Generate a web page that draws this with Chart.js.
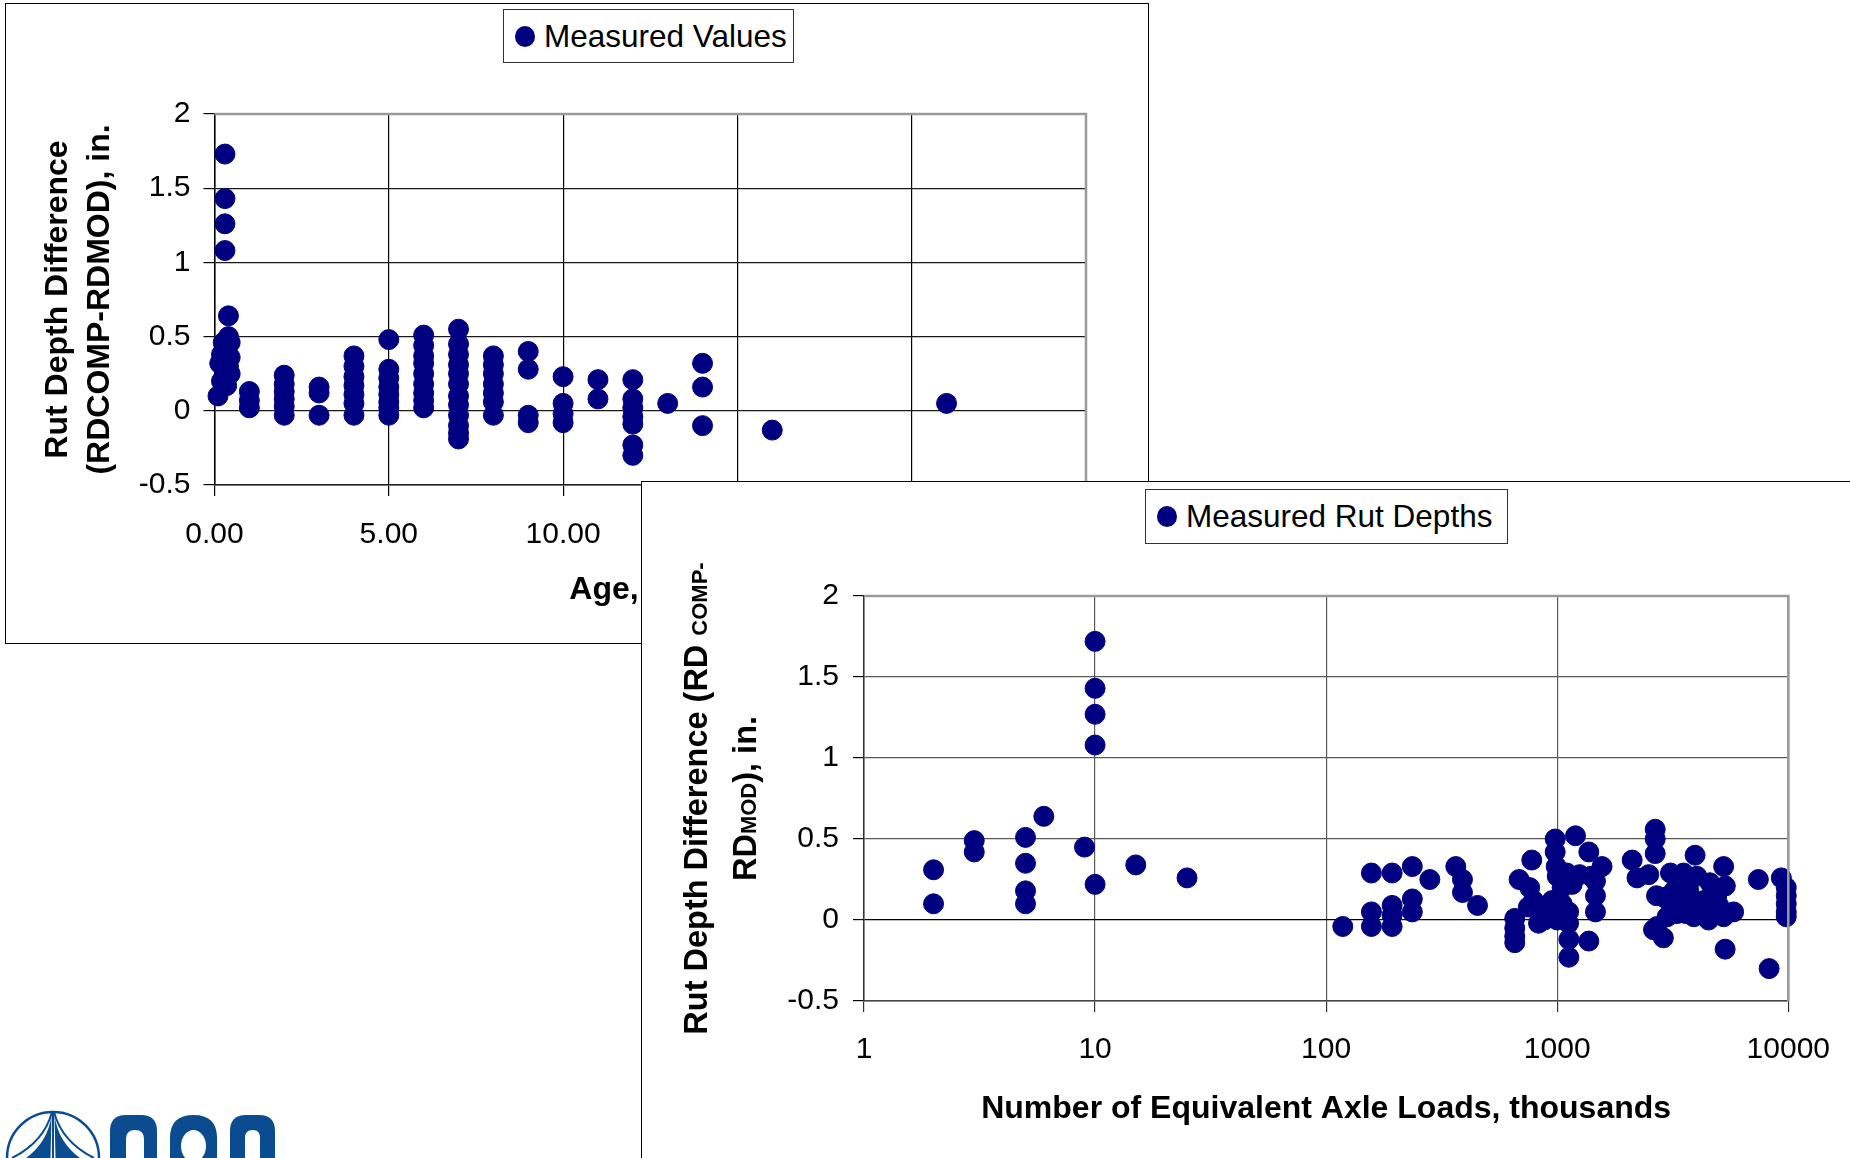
<!DOCTYPE html>
<html>
<head>
<meta charset="utf-8">
<script src="https://cdn.jsdelivr.net/npm/chart.js@4.4.1/dist/chart.umd.min.js"></script>
<style>
  body { margin: 0; width: 1850px; height: 1158px; overflow: hidden; background: #fff; position: relative; font-family: 'Liberation Sans', Arial, sans-serif; }
  .frame { position: absolute; background: #fff; border: 1px solid #000; }
  #frameAge { left: 5px; top: 3px; width: 1142px; height: 639px; z-index: 1; }
  #frameEsal { left: 641px; top: 481px; width: 1300px; height: 800px; z-index: 2; }
  .frame canvas { position: absolute; left: 0; top: 0; }
  .legend { position: absolute; border: 1px solid #333; background: #fff; box-sizing: border-box; font-size: 31.5px; color: #000; z-index: 3; }
  .legend .dot { position: absolute; width: 20px; height: 21px; border-radius: 50%; background: #000080; }
  .legend .txt { position: absolute; white-space: nowrap; line-height: 1; }
  #logo { position: absolute; left: 0; top: 1098px; }
</style>
</head>
<body>

<div class="frame" id="frameAge">
  <canvas id="ageChart" width="1142" height="639"></canvas>
  <div class="legend" style="left:497px; top:5px; width:291px; height:54px;">
    <span class="dot" style="left:11px; top:16px;"></span>
    <span class="txt" style="left:40px; top:11px;">Measured Values</span>
  </div>
</div>

<div class="frame" id="frameEsal">
  <canvas id="esalChart" width="1208" height="676"></canvas>
  <div class="legend" style="left:503px; top:7px; width:363px; height:55px;">
    <span class="dot" style="left:11px; top:16px;"></span>
    <span class="txt" style="left:40px; top:11px;">Measured Rut Depths</span>
  </div>
</div>

<svg id="logo" width="290" height="60" viewBox="0 1098 290 60">
  <circle cx="53" cy="1158" r="46" fill="none" stroke="#0a4c8f" stroke-width="2.5"/>
  <path d="M53 1112 L53 1158" stroke="#0a4c8f" stroke-width="2"/>
  <path d="M51.5 1115 Q48 1142 26 1158 L50.5 1158 Z" fill="#0a4c8f"/>
  <path d="M54.5 1115 Q58 1142 80 1158 L55.5 1158 Z" fill="#0a4c8f"/>
  <path d="M52 1112 Q44 1142 12 1158" fill="none" stroke="#0a4c8f" stroke-width="2"/>
  <path d="M54 1112 Q62 1142 94 1158" fill="none" stroke="#0a4c8f" stroke-width="2"/>
  <path fill-rule="evenodd" fill="#0a4c8f" d="M110 1160 L110 1131 Q110 1115 126 1115 L141 1115 Q157 1115 157 1131 L157 1160 Z M126 1160 L126 1139 Q126 1130 135 1130 Q144 1130 144 1139 L144 1160 Z"/>
  <path fill-rule="evenodd" fill="#0a4c8f" d="M170 1160 L170 1138 Q170 1115 193.5 1115 Q217 1115 217 1138 L217 1160 Z M181 1146 A12.5 16 0 1 0 206 1146 A12.5 16 0 1 0 181 1146 Z"/>
  <path fill-rule="evenodd" fill="#0a4c8f" d="M230 1160 L230 1131 Q230 1115 246 1115 L259 1115 Q275 1115 275 1131 L275 1160 Z M245 1160 L245 1138 Q245 1130 252.5 1130 Q260 1130 260 1138 L260 1160 Z"/>
</svg>

<script>
// wiek nawierzchni (lata) i różnica głębokości koleiny
const ageYears = [0.3, 0.3, 0.3, 0.3, 0.4, 0.4, 0.25, 0.45, 0.35, 0.2, 0.45, 0.15, 0.4, 0.3, 0.45, 0.2, 0.35, 0.1,
    1, 1, 1,
    2, 2, 2, 2, 2, 2,
    3, 3, 3,
    4, 4, 4, 4, 4, 4, 4,
    5, 5, 5, 5, 5, 5, 5, 5,
    6, 6, 6, 6, 6, 6, 6, 6, 6,
    7, 7, 7, 7, 7, 7, 7, 7, 7, 7, 7, 7,
    8, 8, 8, 8, 8, 8, 8,
    9, 9, 9, 9,
    10, 10, 10, 10,
    11, 11,
    12, 12, 12, 12, 12, 12, 12,
    13,
    14, 14, 14,
    16,
    21];
const ageDiff = [1.73, 1.43, 1.26, 1.08, 0.64, 0.50, 0.46, 0.46, 0.42, 0.38, 0.36, 0.32, 0.30, 0.26, 0.25, 0.20, 0.17, 0.10,
    0.13, 0.07, 0.02,
    0.24, 0.18, 0.13, 0.08, 0.03, -0.03,
    0.16, 0.12, -0.03,
    0.37, 0.30, 0.23, 0.17, 0.11, 0.05, -0.03,
    0.48, 0.28, 0.22, 0.16, 0.11, 0.06, 0.02, -0.03,
    0.51, 0.44, 0.37, 0.32, 0.25, 0.18, 0.12, 0.07, 0.02,
    0.55, 0.45, 0.38, 0.31, 0.25, 0.18, 0.10, 0.04, -0.03, -0.10, -0.15, -0.19,
    0.37, 0.31, 0.25, 0.18, 0.12, 0.06, -0.03,
    0.40, 0.28, -0.03, -0.08,
    0.23, 0.05, -0.02, -0.08,
    0.21, 0.08,
    0.21, 0.08, 0.02, -0.04, -0.09, -0.23, -0.30,
    0.05,
    0.32, 0.16, -0.10,
    -0.13,
    0.05];

// liczba osi obliczeniowych (tys.) i różnica głębokości koleiny
const esalThousands = [2, 2, 3, 3, 5, 5, 5, 5, 6, 9, 10, 10, 10, 10, 10, 15, 25,
    118, 157, 157, 157, 193, 193, 193, 193, 236, 236, 236, 281, 364, 389, 389, 452,
    655, 655, 655, 655, 684, 776, 760, 790, 750, 850, 830, 880, 870,
    980, 980, 990, 1000, 1200, 1370, 1563, 1464, 1464, 1464, 1161, 1100, 1050, 1120, 1120, 1123, 1123, 1370,
    950, 900, 1000, 1050, 1250, 1400,
    2110, 2215, 2490, 2655, 2655, 2655, 2690, 2610, 2880, 2700, 3090, 3950, 3520, 4020, 5250, 5340, 4580,
    3030, 3400, 3900, 4300, 4900, 5800, 5250, 4520, 3900, 3300, 2990, 3700, 4700, 5330,
    7420, 9330, 9800, 9800, 9800, 9800, 9800, 8260, 3200, 2900, 4200, 3600, 5000];
const esalDiff = [0.31, 0.10, 0.49, 0.42, 0.51, 0.35, 0.18, 0.10, 0.64, 0.45, 1.72, 1.43, 1.27, 1.08, 0.22, 0.34, 0.26,
    -0.04, 0.29, 0.05, -0.04, 0.29, 0.09, 0.03, -0.04, 0.33, 0.13, 0.05, 0.25, 0.33, 0.25, 0.17, 0.09,
    0.01, -0.05, -0.10, -0.14, 0.25, 0.37, 0.20, 0.12, 0.08, 0.06, -0.02, 0.00, 0.08,
    0.50, 0.42, 0.33, 0.27, 0.52, 0.42, 0.33, 0.15, 0.05, 0.24, 0.22, 0.29, 0.20, 0.05, -0.02, -0.12, -0.23, -0.13,
    0.12, 0.05, 0.00, 0.10, 0.28, 0.27,
    0.37, 0.26, 0.28, 0.56, 0.50, 0.41, 0.15, -0.06, -0.11, -0.04, 0.29, 0.40, 0.29, 0.27, 0.33, 0.21, 0.23,
    0.12, 0.08, 0.12, 0.12, 0.15, 0.05, 0.02, 0.00, 0.02, 0.04, 0.02, 0.19, 0.06, -0.18,
    0.25, 0.26, 0.20, 0.15, 0.10, 0.05, 0.02, -0.30, 0.18, 0.14, 0.09, 0.04, 0.09];

const yTicks = [-0.5, 0, 0.5, 1, 1.5, 2];
const esalTicks = [1, 10, 100, 1000, 10000];

const navy = '#000080';
const tickFont = { family: "'Liberation Sans', Arial, sans-serif", size: 30 };
const titleFont = { family: "'Liberation Sans', Arial, sans-serif", size: 32, weight: 'bold' };

// szara ramka obszaru wykresu (góra i prawa strona)
const plotBorder = {
    id: 'plotBorder',
    afterDraw(chart) {
        const a = chart.chartArea;
        const ctx = chart.ctx;
        ctx.save();
        ctx.strokeStyle = '#9a9a9a';
        ctx.lineWidth = 2.5;
        ctx.beginPath();
        ctx.moveTo(a.left, a.top);
        ctx.lineTo(a.right, a.top);
        ctx.lineTo(a.right, a.bottom);
        ctx.stroke();
        ctx.restore();
    }
};

// tytuł osi Y z indeksami (COMP, MOD)
const richYTitle = {
    id: 'richYTitle',
    afterDraw(chart, args, opts) {
        const ctx = chart.ctx;
        const cy = (chart.chartArea.top + chart.chartArea.bottom) / 2;
        opts.lines.forEach((parts, i) => {
            ctx.save();
            ctx.translate(opts.x[i], cy);
            ctx.rotate(-Math.PI / 2);
            ctx.fillStyle = '#000';
            ctx.textBaseline = 'alphabetic';
            let total = 0;
            parts.forEach(p => {
                ctx.font = `bold ${p.size}px 'Liberation Sans', Arial, sans-serif`;
                total += ctx.measureText(p.text).width;
            });
            let x = -total / 2;
            parts.forEach(p => {
                ctx.font = `bold ${p.size}px 'Liberation Sans', Arial, sans-serif`;
                ctx.fillText(p.text, x, 11 + (p.shift || 0));
                x += ctx.measureText(p.text).width;
            });
            ctx.restore();
        });
    }
};

function yScale(width, pad) {
    return {
        type: 'linear',
        min: -0.5,
        max: 2,
        afterBuildTicks: s => { s.ticks = yTicks.map(v => ({ value: v })); },
        afterFit: s => { s.width = width; },
        ticks: { font: tickFont, color: '#000', padding: pad, callback: v => String(v) },
        border: { display: true, color: '#000', width: 1.5 },
        grid: { drawTicks: true, tickLength: 11, tickColor: '#000', lineWidth: 1.2 }
    };
}

document.addEventListener('DOMContentLoaded', function() {
    const ageCtx = document.getElementById('ageChart').getContext('2d');

    const ageY = yScale(208.5, 13);
    ageY.grid.color = '#1a1a1a';
    ageY.title = { display: true, text: ['Rut Depth Difference', '(RDCOMP-RDMOD), in.'], font: Object.assign({}, titleFont, { lineHeight: 42 / 32 }), color: '#000', padding: { top: 31 } };

    new Chart(ageCtx, {
        type: 'scatter',
        data: {
            datasets: [{
                label: 'Measured Values',
                data: ageYears.map((v, i) => ({ x: v, y: ageDiff[i] })),
                backgroundColor: navy,
                borderColor: navy,
                pointRadius: 10,
                pointBorderWidth: 1,
                clip: false
            }]
        },
        options: {
            responsive: false,
            animation: false,
            devicePixelRatio: 1,
            layout: { padding: { left: 0, top: 110, right: 62, bottom: 18 } },
            plugins: { legend: { display: false }, tooltip: { enabled: false } },
            scales: {
                x: {
                    type: 'linear',
                    min: 0,
                    max: 25,
                    afterFit: s => { s.height = 140; },
                    ticks: { stepSize: 5, font: tickFont, color: '#000', padding: 21, maxRotation: 0, callback: v => Number(v).toFixed(2) },
                    border: { display: true, color: '#222', width: 1.5 },
                    grid: { color: '#000', lineWidth: 1.2, drawTicks: true, tickLength: 11, tickColor: '#000' },
                    title: { display: true, text: 'Age, years', font: Object.assign({}, titleFont, { lineHeight: 1.2 }), color: '#000', padding: { bottom: 16 } }
                },
                y: ageY
            }
        },
        plugins: [plotBorder]
    });

    const esalCtx = document.getElementById('esalChart').getContext('2d');
    const esalY = yScale(222, 14);
    esalY.grid.color = c => (c.tick && c.tick.value === 0) ? '#000' : '#5a5a5a';
    esalY.border.color = '#333';

    new Chart(esalCtx, {
        type: 'scatter',
        data: {
            datasets: [{
                label: 'Measured Rut Depths',
                data: esalThousands.map((v, i) => ({ x: v, y: esalDiff[i] })),
                backgroundColor: navy,
                borderColor: navy,
                pointRadius: 10,
                pointBorderWidth: 1,
                clip: false
            }]
        },
        options: {
            responsive: false,
            animation: false,
            devicePixelRatio: 1,
            layout: { padding: { left: 0, top: 114, right: 57, bottom: 17 } },
            plugins: {
                legend: { display: false },
                tooltip: { enabled: false },
                richYTitle: {
                    x: [54, 103],
                    lines: [
                        [{ text: 'Rut Depth Difference (RD ', size: 32.5 }, { text: 'COMP', size: 22 }, { text: '-', size: 22 }],
                        [{ text: 'RD', size: 32.5 }, { text: 'MOD', size: 22 }, { text: '), in.', size: 32.5 }]
                    ]
                }
            },
            scales: {
                x: {
                    type: 'logarithmic',
                    min: 1,
                    max: 10000,
                    afterBuildTicks: s => { s.ticks = esalTicks.map(v => ({ value: v })); },
                    afterFit: s => { s.height = 140; },
                    ticks: { font: tickFont, color: '#000', padding: 20, maxRotation: 0, autoSkip: false, callback: v => String(v) },
                    border: { display: true, color: '#444', width: 1.5 },
                    grid: { color: '#5a5a5a', lineWidth: 1.2, drawTicks: true, tickLength: 11, tickColor: '#333' },
                    title: { display: true, text: 'Number of Equivalent Axle Loads, thousands', font: Object.assign({}, titleFont, { lineHeight: 1.2 }), color: '#000', padding: { bottom: 13 } }
                },
                y: esalY
            }
        },
        plugins: [plotBorder, richYTitle]
    });
});
</script>
</body>
</html>
